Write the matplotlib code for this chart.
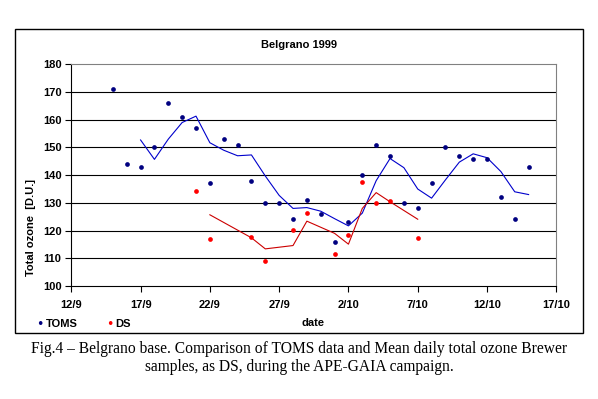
import datetime as dt
import matplotlib
matplotlib.use("Agg")
import matplotlib.pyplot as plt
import matplotlib.dates as mdates
from matplotlib.ticker import FuncFormatter
from matplotlib.patches import Rectangle

# TOMS daily values (15/9 .. 15/10 1999)
toms_dates = ["15/9", "16/9", "17/9", "18/9", "19/9", "20/9", "21/9", "22/9",
              "23/9", "24/9", "25/9", "26/9", "27/9", "28/9", "29/9", "30/9",
              "1/10", "2/10", "3/10", "4/10", "5/10", "6/10", "7/10", "8/10",
              "9/10", "10/10", "11/10", "12/10", "13/10", "14/10", "15/10"]
toms_vals = [171, 144, 143, 150, 166, 161, 157, 137, 153, 151, 138, 130, 130,
             124, 131, 126, 116, 123, 140, 151, 147, 130, 128, 137, 150, 147,
             146, 146, 132, 124, 143]

# 3-day moving average line as drawn for TOMS (starts 17/9)
toms_ma_dates = toms_dates[2:]
toms_ma_vals = [152.7, 145.7, 153.0, 159.0, 161.3, 151.7, 149.0, 147.0, 147.3,
                139.7, 132.7, 128.0, 128.3, 127.0, 124.3, 121.7, 126.3, 138.0,
                146.0, 142.7, 135.0, 131.7, 138.3, 144.7, 147.7, 146.3, 141.3,
                134.0, 133.0]

# Brewer DS daily means
ds_dates = ["21/9", "22/9", "25/9", "26/9", "28/9", "29/9", "1/10", "2/10",
            "3/10", "4/10", "5/10", "7/10"]
ds_vals = [134.4, 117.0, 117.8, 108.9, 120.3, 126.4, 111.7, 118.5, 137.4,
           130.0, 130.8, 117.4]

# 2-point moving average line as drawn for DS (starts 22/9)
ds_ma_dates = ds_dates[1:]
ds_ma_vals = [125.7, 117.4, 113.4, 114.6, 123.4, 119.0, 115.1, 128.0, 133.7,
              130.4, 124.1]

x_ticks = ["12/9", "17/9", "22/9", "27/9", "2/10", "7/10", "12/10", "17/10"]


def to_date(s):
    d, m = s.split("/")
    return dt.date(1999, int(m), int(d))


navy = "#000080"
red = "#ff0000"
sans = "Liberation Sans"

fig = plt.figure(figsize=(5.98, 3.99), dpi=100)
ax = fig.add_axes([0.1192, 0.2832, 0.8111, 0.5556])

# outer chart frame
fig.patches.append(Rectangle((0.0246, 0.1654), 0.9498, 0.7627, transform=fig.transFigure,
                             fill=False, edgecolor="black", linewidth=1.0))

ax.plot([to_date(s) for s in toms_ma_dates], toms_ma_vals, color="#0000cc", lw=0.8, zorder=3)
ax.plot([to_date(s) for s in ds_ma_dates], ds_ma_vals, color="#cc0000", lw=0.8, zorder=3)
ax.plot([to_date(s) for s in toms_dates], toms_vals, "o", color=navy, ms=3.4, mew=0, zorder=4)
ax.plot([to_date(s) for s in ds_dates], ds_vals, "o", color=red, ms=3.4, mew=0, zorder=4)

ax.set_ylim(100, 180)
ax.set_yticks(range(100, 181, 10))
ax.set_xlim(to_date("12/9"), to_date("17/10"))
ax.set_xticks([to_date(s) for s in x_ticks])
ax.xaxis.set_major_formatter(FuncFormatter(
    lambda v, p: "%d/%d" % (mdates.num2date(v).day, mdates.num2date(v).month)))

for y in range(110, 180, 10):
    ax.axhline(y, color="black", lw=0.8, zorder=1)

for side in ["top", "right"]:
    ax.spines[side].set_color("#808080")
for side in ["left", "bottom"]:
    ax.spines[side].set_color("black")
for sp in ax.spines.values():
    sp.set_linewidth(0.8)

ax.tick_params(axis="both", direction="out", length=4, width=0.8, labelsize=8)
ax.tick_params(axis="y", pad=3)
ax.tick_params(axis="x", pad=6)
for lab in ax.get_xticklabels() + ax.get_yticklabels():
    lab.set_fontweight("bold")
    lab.set_fontfamily(sans)

fig.text(0.4995, 0.887, "Belgrano 1999", ha="center", va="center",
         fontsize=8, fontweight="bold", family=sans)
fig.text(0.052, 0.429, "Total ozone  [D.U.]", ha="center", va="center", rotation=90,
         fontsize=8, fontweight="bold", family=sans)
fig.text(0.5234, 0.19, "date", ha="center", va="center",
         fontsize=8, fontweight="bold", family=sans)

# legend at the bottom-left of the frame
fig.text(0.066, 0.187, "\u2022", color=navy, ha="center", va="center", fontsize=9)
fig.text(0.076, 0.187, "TOMS", ha="left", va="center", fontsize=8, fontweight="bold", family=sans)
fig.text(0.183, 0.187, "\u2022", color=red, ha="center", va="center", fontsize=9)
fig.text(0.193, 0.187, "DS", ha="left", va="center", fontsize=8, fontweight="bold", family=sans)

fig.text(0.5, 0.126, "Fig.4 \u2013 Belgrano base. Comparison of TOMS data and Mean daily total ozone Brewer",
         ha="center", va="center", fontsize=11.2, family="Liberation Serif")
fig.text(0.5, 0.081, "samples, as DS, during the APE-GAIA campaign.",
         ha="center", va="center", fontsize=11.2, family="Liberation Serif")

fig.savefig("out.png", dpi=100)
